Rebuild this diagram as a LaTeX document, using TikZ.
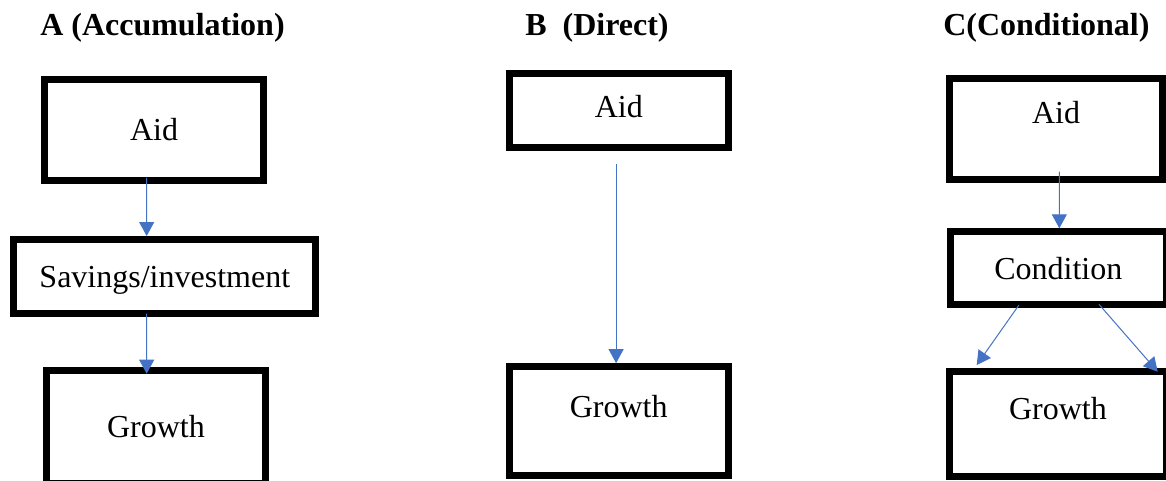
\documentclass[tikz,border=0pt]{standalone}
\usepackage{fontspec}
\setmainfont{Liberation Serif}
\usetikzlibrary{shapes,arrows.meta,positioning}
\definecolor{flowblue}{HTML}{4472C4}
\tikzset{
    %Define standard arrow tip
    >={Triangle[length=10.5pt,width=11.25pt]},
    %Define style for boxes
    block/.style={
           rectangle,
           draw=black,
           line width=5.25pt,
           font=\fontsize{24}{28}\selectfont,
           text centered},
    %Define style for the panel titles
    heading/.style={
           anchor=base west,
           inner sep=0pt,
           font=\fontsize{24}{28}\selectfont\bfseries},
    % Define arrow style
    arrow/.style={
           ->,
           draw=flowblue,
           line width=0.75pt},
    % lift the text inside tall boxes
    raised/.style={text depth=#1}
}

\begin{document}
\begin{tikzpicture}[x=0.75pt, y=-0.75pt]
    \useasboundingbox (0,0) rectangle (1166,480);
    \clip (0,0) rectangle (1166,480);

    \node [heading] (titleA) at (40,35) {A (Accumulation)};
    \node [heading] (titleB) at (525,35) {B\ \ (Direct)};
    \node [heading] (titleC) at (943,35) {C(Conditional)};

    % A
    \node [block, minimum width=164.25pt, minimum height=76.1pt] (aidA) at (154,129.75) {Aid};
    \node [block, raised=0pt, minimum width=226.5pt, minimum height=55.5pt] (savA) at (164.8,276.5) {Savings/investment};
    \node [block, raised=2pt, minimum width=164.6pt, minimum height=85.1pt] (growthA) at (156,427.25) {Growth};
    % B
    \node [block, raised=5.6pt, minimum width=164.6pt, minimum height=55.5pt] (aidB) at (618.75,110) {Aid};
    \node [block, raised=22.6pt, minimum width=164.6pt, minimum height=82pt] (growthB) at (618.75,421.3) {Growth};
    % C
    \node [block, raised=24pt, minimum width=159.75pt, minimum height=75.5pt] (aidC) at (1056,128.85) {Aid};
    \node [block, minimum width=162.2pt, minimum height=54.75pt] (cond) at (1058.3,268.3) {Condition};
    \node [block, raised=24.5pt, minimum width=162.75pt, minimum height=78.75pt] (growthC) at (1058,424.4) {Growth};

	\draw[arrow] ([xshift=-5.5pt,yshift=4.5pt]aidA.south) -- ([xshift=-13.6pt]savA.north);
	\draw[arrow] ([xshift=-13.6pt,yshift=2.5pt]savA.south) -- ([xshift=-7pt,yshift=-5pt]growthA.north);
	\draw[arrow] ([xshift=-2pt,yshift=-10pt]aidB.south) -- ([xshift=-2pt]growthB.north);
	\draw[arrow] ([xshift=2.5pt,yshift=8.25pt]aidC.south) -- ([xshift=0.75pt]cond.north);
	\draw[arrow] ([xshift=-29.5pt,yshift=2.5pt]cond.south) -- ([xshift=-61pt,yshift=2.5pt]growthC.north);
	\draw[arrow] ([xshift=30.5pt,yshift=3pt]cond.south) -- ([xshift=74.8pt,yshift=-2.5pt]growthC.north);
\end{tikzpicture}
\end{document}
